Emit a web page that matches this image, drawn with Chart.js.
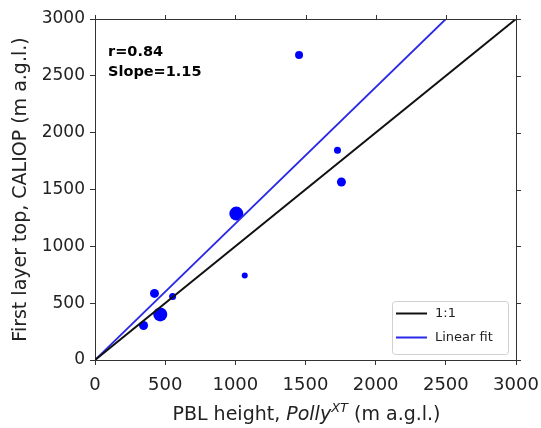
<!DOCTYPE html>
<html>
<head>
<meta charset="utf-8">
<script src="https://cdn.jsdelivr.net/npm/chart.js@4.4.1/dist/chart.umd.min.js"></script>
<style>
  body { margin: 0; background: #fff; }
  #wrap { width: 541px; height: 428px; }
</style>
</head>
<body>
<div id="wrap"><canvas id="scatterChart" width="541" height="428"></canvas></div>
<script>
// Datos
const pollyPbl   = [346, 424, 465, 553, 1007, 1067, 1454, 1728, 1756];
const caliopTop  = [304, 586, 401, 559, 1288, 744, 2683, 1845, 1566];
const markerSize = [4.5, 4.5, 7, 3.5, 7, 3, 4, 3.5, 4.5];

const oneToOneX = [0, 3000];
const oneToOneY = [0, 3000];
const fitX = [0, 2500];
const fitY = [0, 3000];

const statsLines = ['r=0.84', 'Slope=1.15'];
const axisTicks = [0, 500, 1000, 1500, 2000, 2500, 3000];

const textColor = '#222';
const frameColor = '#333';

function toPoints(xs, ys) {
    return xs.map((x, i) => ({ x: x, y: ys[i] }));
}

/**
 * Marco superior/derecho con marcas hacia afuera
 */
const framePlugin = {
    id: 'frame',
    afterDraw(chart) {
        const { ctx, chartArea: a, scales } = chart;
        ctx.save();
        ctx.strokeStyle = frameColor;
        ctx.lineWidth = 1;
        ctx.beginPath();
        ctx.moveTo(a.left, a.top + 0.5);
        ctx.lineTo(a.right + 0.5, a.top + 0.5);
        ctx.lineTo(a.right + 0.5, a.bottom);
        axisTicks.forEach(v => {
            const px = Math.round(scales.x.getPixelForValue(v)) + 0.5;
            ctx.moveTo(px, a.top);
            ctx.lineTo(px, a.top - 4);
            const py = Math.round(scales.y.getPixelForValue(v)) + 0.5;
            ctx.moveTo(a.right, py);
            ctx.lineTo(a.right + 5, py);
        });
        ctx.stroke();
        ctx.restore();
    }
};

/**
 * Texto r / pendiente y titulo del eje x
 */
const textPlugin = {
    id: 'texts',
    afterDraw(chart) {
        const { ctx, chartArea: a } = chart;
        ctx.save();
        ctx.fillStyle = '#000';
        ctx.font = 'bold 14.5px "DejaVu Sans"';
        ctx.textBaseline = 'middle';
        ctx.textAlign = 'left';
        statsLines.forEach((t, i) => ctx.fillText(t, 108, 52 + i * 20));

        // Titulo eje x: PBL height, Polly^XT (m a.g.l.)
        const parts = [
            { t: 'PBL height, ', f: '19px "DejaVu Sans"', dy: 0 },
            { t: 'Polly', f: 'italic 19px "DejaVu Sans"', dy: 0 },
            { t: 'XT', f: 'italic 13px "DejaVu Sans"', dy: -8 },
            { t: ' (m a.g.l.)', f: '19px "DejaVu Sans"', dy: 0 }
        ];
        let total = 0;
        parts.forEach(p => { ctx.font = p.f; p.w = ctx.measureText(p.t).width; total += p.w; });
        let x = (a.left + a.right) / 2 - total / 2 + 1;
        ctx.fillStyle = textColor;
        ctx.textBaseline = 'alphabetic';
        parts.forEach(p => {
            ctx.font = p.f;
            ctx.fillText(p.t, x, 420 + p.dy);
            x += p.w;
        });
        ctx.restore();
    }
};

/**
 * Leyenda dentro del area del grafico
 */
const legendPlugin = {
    id: 'boxLegend',
    afterDraw(chart) {
        const { ctx } = chart;
        const items = chart.data.datasets.filter(d => d.showLine);
        const bx = 392.5, by = 301.5, bw = 116, bh = 53;
        ctx.save();
        ctx.fillStyle = 'rgba(255,255,255,0.85)';
        ctx.strokeStyle = '#d0d0d0';
        ctx.lineWidth = 1;
        ctx.beginPath();
        ctx.roundRect(bx, by, bw, bh, 3);
        ctx.fill();
        ctx.stroke();
        ctx.font = '13px "DejaVu Sans"';
        ctx.textBaseline = 'middle';
        items.forEach((d, i) => {
            const y = 313.5 + i * 24;
            ctx.strokeStyle = d.borderColor;
            ctx.lineWidth = 2;
            ctx.beginPath();
            ctx.moveTo(396, y);
            ctx.lineTo(427, y);
            ctx.stroke();
            ctx.fillStyle = textColor;
            ctx.fillText(d.label, 435, y);
        });
        ctx.restore();
    }
};

const ctx = document.getElementById('scatterChart').getContext('2d');
const chart = new Chart(ctx, {
    type: 'scatter',
    data: {
        datasets: [
            {
                label: '1:1',
                data: toPoints(oneToOneX, oneToOneY),
                showLine: true,
                borderColor: '#111',
                borderWidth: 2,
                pointRadius: 0,
                order: 0
            },
            {
                label: 'Linear fit',
                data: toPoints(fitX, fitY),
                showLine: true,
                borderColor: 'rgb(40,40,230)',
                borderWidth: 1.8,
                pointRadius: 0,
                order: 1
            },
            {
                label: 'profiles',
                data: toPoints(pollyPbl, caliopTop),
                backgroundColor: '#0000ff',
                borderWidth: 0,
                pointRadius: markerSize,
                order: 2
            }
        ]
    },
    options: {
        responsive: false,
        animation: false,
        devicePixelRatio: 1,
        layout: { padding: { top: 19, right: 25, left: 0, bottom: 0 } },
        plugins: {
            legend: { display: false },
            tooltip: { enabled: false }
        },
        scales: {
            x: {
                type: 'linear',
                min: 0,
                max: 3000,
                afterFit: s => { s.height = 68; s.paddingLeft = 0; s.paddingRight = 0; },
                afterBuildTicks: s => { s.ticks = axisTicks.map(v => ({ value: v })); },
                ticks: {
                    color: textColor,
                    font: { family: 'DejaVu Sans', size: 18 },
                    padding: 10,
                    maxRotation: 0,
                    callback: v => String(v)
                },
                grid: { drawOnChartArea: false, tickLength: 5, tickColor: frameColor },
                border: { display: true, color: frameColor, width: 1 }
            },
            y: {
                type: 'linear',
                min: 0,
                max: 3000,
                afterFit: s => { s.width = 95; s.paddingTop = 0; s.paddingBottom = 0; },
                afterBuildTicks: s => { s.ticks = axisTicks.map(v => ({ value: v })); },
                ticks: {
                    color: textColor,
                    font: { family: 'DejaVu Sans', size: 17 },
                    padding: 5,
                    callback: v => String(v)
                },
                grid: { drawOnChartArea: false, tickLength: 5, tickColor: frameColor },
                border: { display: true, color: frameColor, width: 1 },
                title: {
                    display: true,
                    text: 'First layer top, CALIOP (m a.g.l.)',
                    color: textColor,
                    font: { family: 'DejaVu Sans', size: 19 },
                    padding: { top: 10, bottom: 0 }
                }
            }
        }
    },
    plugins: [framePlugin, textPlugin, legendPlugin]
});
</script>
</body>
</html>
